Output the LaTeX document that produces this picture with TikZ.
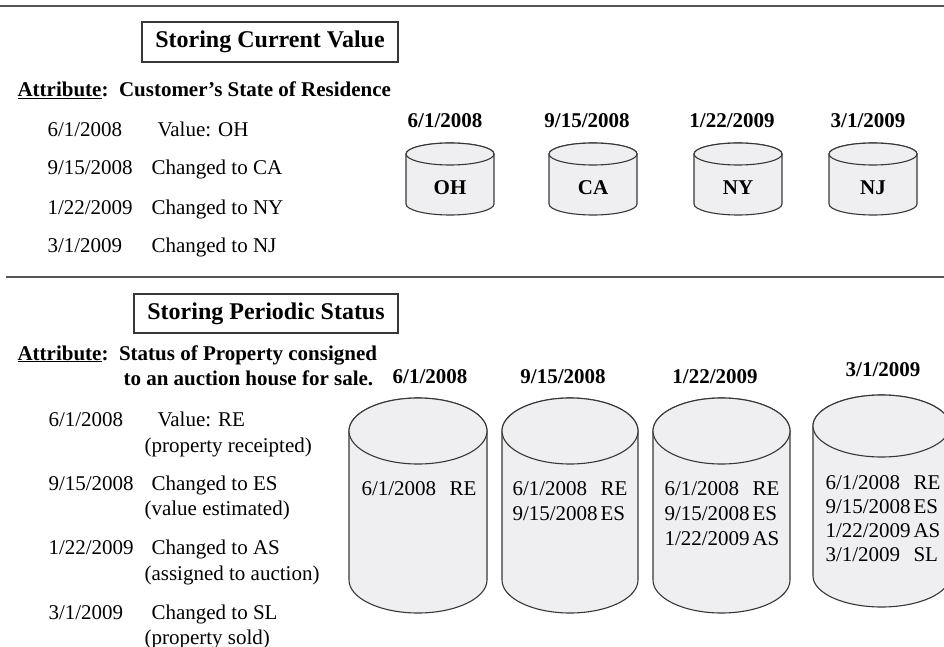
\documentclass[tikz,border=0pt]{standalone}
\usepackage{fontspec}
\setmainfont{Liberation Serif}
\definecolor{drumfill}{RGB}{239,239,241}
\definecolor{drumline}{RGB}{55,55,55}
\definecolor{rulegray}{RGB}{85,85,85}
% cylinder: centre x, top y, x radius, y radius, bottom y
\newcommand{\drum}[5]{%
  \filldraw[drum] (#1-#3,#2) -- (#1-#3,#5)
    arc[start angle=180, end angle=0, x radius=#3, y radius=#4]
    -- (#1+#3,#2) arc[start angle=0, end angle=-180, x radius=#3, y radius=#4] -- cycle;
  \filldraw[drum] (#1,#2) ellipse [x radius=#3, y radius=#4];}
\newcommand{\logrow}[2]{\makebox[88pt][l]{#1}#2}
\begin{document}
\begin{tikzpicture}[x=1pt, y=-1pt,
  every node/.style={inner sep=0pt, font=\fontsize{21}{25}\selectfont},
  every path/.style={line width=1.1pt},
  drum/.style={draw=drumline, fill=drumfill},
  title/.style={draw=drumline, font=\fontsize{24}{28}\selectfont\bfseries, minimum height=40pt},
  head/.style={anchor=base west, font=\fontsize{21}{25}\selectfont\bfseries},
  item/.style={anchor=base west},
  stamp/.style={anchor=base, font=\fontsize{21}{25}\selectfont\bfseries},
  log/.style={anchor=base west},
  rule/.style={draw=rulegray, line width=1.8pt}]
\useasboundingbox (0,0) rectangle (944,647);
\draw[rule] (0,6) -- (944,6);
\draw[rule] (6,277) -- (944,277);

% storing current value
\node[title, minimum width=256pt] (curbox) at (270,42) {Storing Current Value};
\node[head] (curattr) at (17,97) {\underline{Attribute}:\ \ Customer’s State of Residence};
\node[item] (cd1) at (47,137) {6/1/2008};
\node[item] (cv1) at (157,137) {Value: OH};
\node[item] (cd2) at (47,175) {9/15/2008};
\node[item] (cv2) at (151,175) {Changed to CA};
\node[item] (cd3) at (47,214) {1/22/2009};
\node[item] (cv3) at (151,214) {Changed to NY};
\node[item] (cd4) at (47,252) {3/1/2009};
\node[item] (cv4) at (151,252) {Changed to NJ};

\drum{450}{154}{44}{11}{204}
\drum{593}{154}{44}{11}{204}
\drum{738}{154}{44}{11}{204}
\drum{873}{154}{44}{11}{204}
\node[stamp] (ct1) at (445,128) {6/1/2008};
\node[stamp] (ct2) at (587,128) {9/15/2008};
\node[stamp] (ct3) at (732,128) {1/22/2009};
\node[stamp] (ct4) at (868,128) {3/1/2009};
\node[stamp] (oh) at (450,194) {OH};
\node[stamp] (ca) at (593,194) {CA};
\node[stamp] (ny) at (738,194) {NY};
\node[stamp] (nj) at (873,194) {NJ};

% storing periodic status
\node[title, minimum width=264pt, minimum height=39pt] (perbox) at (266,313.5) {Storing Periodic Status};
\node[head] (perattr) at (17,360) {\underline{Attribute}:\ \ Status of Property consigned};
\node[head] (perattr2) at (123,385) {to an auction house for sale.};
\node[item] (pd1) at (48,426) {6/1/2008};
\node[item] (pv1) at (157,426) {Value: RE};
\node[item] (pn1) at (144,452) {(property receipted)};
\node[item] (pd2) at (48,490) {9/15/2008};
\node[item] (pv2) at (151,490) {Changed to ES};
\node[item] (pn2) at (144,515) {(value estimated)};
\node[item] (pd3) at (48,554) {1/22/2009};
\node[item] (pv3) at (151,554) {Changed to AS};
\node[item] (pn3) at (144,580) {(assigned to auction)};
\node[item] (pd4) at (48,619) {3/1/2009};
\node[item] (pv4) at (151,619) {Changed to SL};
\node[item] (pn4) at (144,644) {(property sold)};

\drum{418}{431}{69}{33}{580}
\drum{570}{431}{68}{33}{580}
\drum{721.5}{431}{68.5}{33}{580}
\drum{881.5}{426}{68.5}{31}{576}
\node[stamp] (pt1) at (430,383) {6/1/2008};
\node[stamp] (pt2) at (563,383) {9/15/2008};
\node[stamp] (pt3) at (715,383) {1/22/2009};
\node[stamp] (pt4) at (883,376) {3/1/2009};
\node[log] (log1) at (361,495) {\begin{tabular}[t]{@{}l@{}}
  \logrow{6/1/2008}{RE}\end{tabular}};
\node[log] (log2) at (512,495) {\begin{tabular}[t]{@{}l@{}}
  \logrow{6/1/2008}{RE}\\ \logrow{9/15/2008}{ES}\end{tabular}};
\node[log] (log3) at (664,495) {\begin{tabular}[t]{@{}l@{}}
  \logrow{6/1/2008}{RE}\\ \logrow{9/15/2008}{ES}\\ \logrow{1/22/2009}{AS}\end{tabular}};
\node[log] (log4) at (825,489) {\renewcommand{\arraystretch}{0.96}\begin{tabular}[t]{@{}l@{}}
  \logrow{6/1/2008}{RE}\\ \logrow{9/15/2008}{ES}\\ \logrow{1/22/2009}{AS}\\ \logrow{3/1/2009}{SL}\end{tabular}};
\end{tikzpicture}
\end{document}
